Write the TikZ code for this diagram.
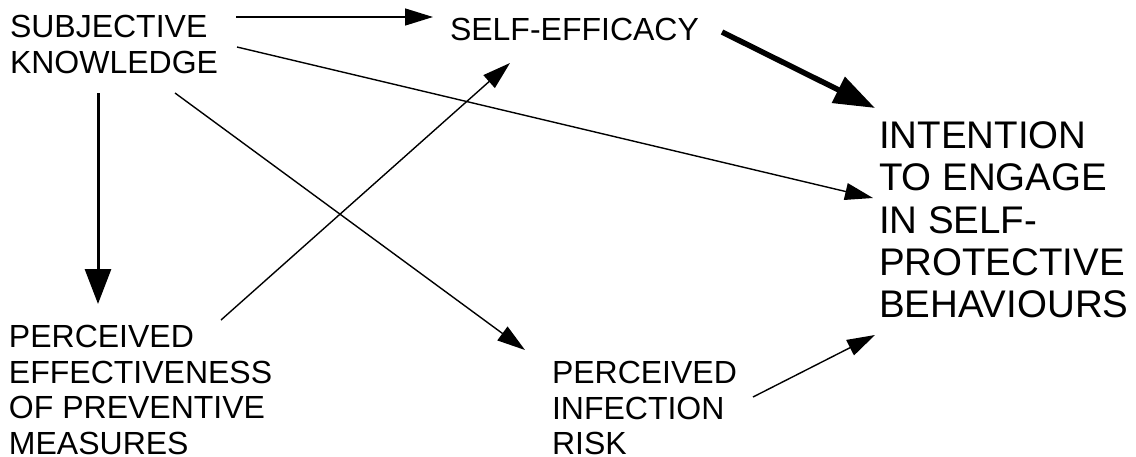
\documentclass[tikz,border=0pt]{standalone}
\usepackage{fontspec}
\setmainfont{Liberation Sans}
\usetikzlibrary{arrows.meta,calc}
\tikzset{
  lbl/.style={inner sep=0pt, outer sep=0pt, anchor=north west, align=left,
    font=\fontsize{32}{35.8}\selectfont},
  biglbl/.style={inner sep=0pt, outer sep=0pt, anchor=north west, align=left,
    font=\fontsize{38.5}{42.1}\selectfont},
  thin/.style={line width=1.4pt, -{Triangle[length=28pt,width=17pt]}},
  mid/.style={line width=3pt, -{Triangle[length=35pt,width=26pt]}},
  heavy/.style={line width=5.5pt, -{Triangle[length=41pt,width=28pt]}}
}
\begin{document}
\begin{tikzpicture}[x=1pt,y=-1pt]
\useasboundingbox (0,0) rectangle (1136,456);
\node[lbl] (subj) at (10,15) {SUBJECTIVE\\KNOWLEDGE};
\node[lbl] (self) at (450,18) {SELF-EFFICACY};
\node[lbl] (pereff) at (9,325) {PERCEIVED\\EFFECTIVENESS\\OF PREVENTIVE\\MEASURES};
\node[lbl] (perinf) at (552,361) {PERCEIVED\\INFECTION\\RISK};
\node[biglbl] (int) at (879,122) {INTENTION\\TO ENGAGE\\IN SELF-\\PROTECTIVE\\BEHAVIOURS};

\draw[thin] ($(subj.north west)+(226,2)$) -- ($(self.north west)+(-17,-1)$);
\draw[thin] ($(subj.north west)+(227,32)$) -- ($(int.north west)+(-6,76)$);
\draw[mid] ($(subj.north west)+(88,78)$) -- ($(pereff.north west)+(89,-21)$);
\draw[thin] ($(subj.north west)+(165,78)$) -- ($(perinf.north west)+(-27,-11)$);
\draw[thin] ($(pereff.north west)+(212,-5)$) -- ($(self.north west)+(60,45)$);
\draw[heavy] ($(self.north west)+(272,14)$) -- ($(int.north west)+(-4,-14)$);
\draw[thin] ($(perinf.north west)+(201,36)$) -- ($(int.north west)+(-4,213)$);
\end{tikzpicture}
\end{document}
